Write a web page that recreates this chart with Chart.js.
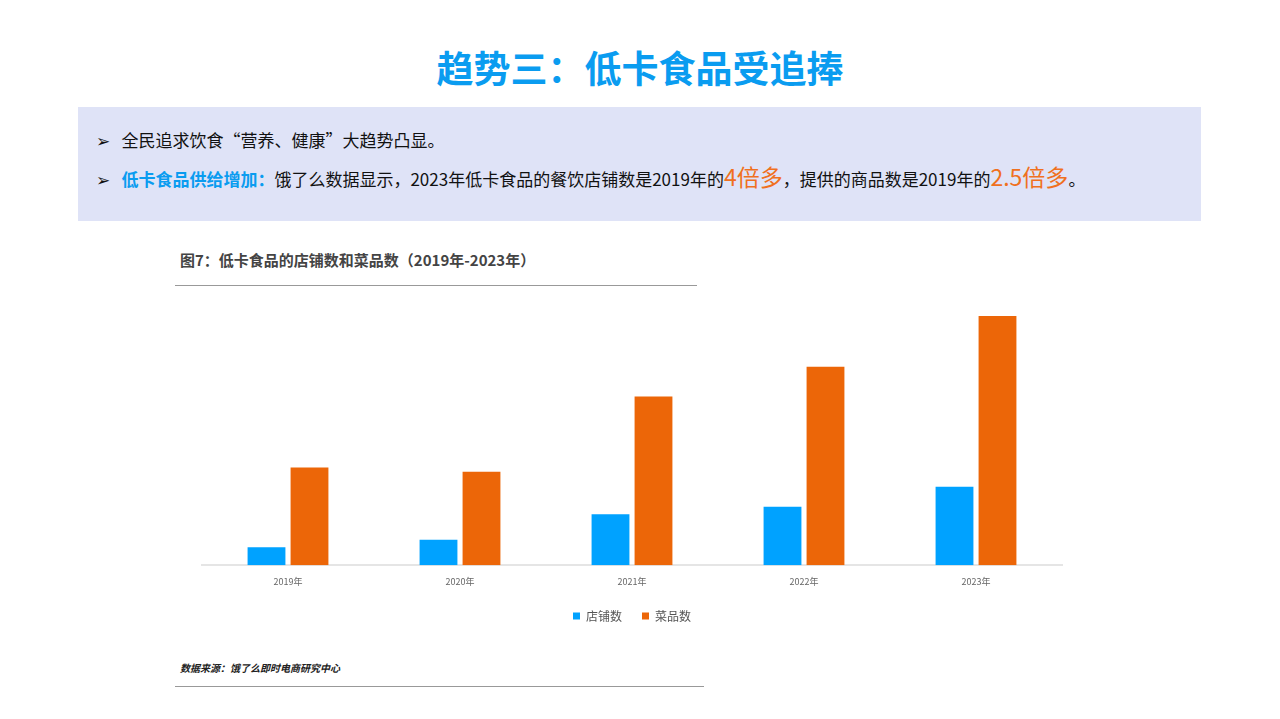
<!DOCTYPE html>
<html><head><meta charset="utf-8">
<script src="https://cdn.jsdelivr.net/npm/chart.js@4"></script>
<style>
body{margin:0;width:1280px;height:719px;background:#fff;font-family:"Noto Sans CJK SC","Noto Sans",sans-serif;position:relative;overflow:hidden}
.abs{position:absolute}
#title{left:0;width:1280px;top:40px;text-align:center;font-size:37px;font-weight:bold;color:#0a9cf0}
#box{left:78px;top:107px;width:1123px;height:114px;background:#dfe3f7}
.row{position:absolute;left:18px;font-size:17px;color:#111;white-space:nowrap}
.big{color:#f07020;font-size:23px}
#ctitle{left:180px;top:249px;font-size:15px;font-weight:bold;color:#444}
.hl{height:1px;background:#999}
#src{left:180px;top:660px;font-size:10px;font-weight:bold;font-style:italic;color:#222}
#wrap{left:192px;top:300px;width:880px;height:340px}
</style></head><body>
<div class="abs" id="title">趋势三：低卡食品受追捧</div>
<div class="abs" id="box">
 <div class="row" style="top:20px">➢&nbsp;&nbsp;&nbsp;全民追求饮食“营养、健康”大趋势凸显。</div>
 <div class="row" style="top:52px">➢&nbsp;&nbsp;&nbsp;<b style="color:#0a9cf0">低卡食品供给增加：</b>饿了么数据显示，2023年低卡食品的餐饮店铺数是2019年的<span class="big">4倍多</span>，提供的商品数是2019年的<span class="big">2.5倍多</span>。</div>
</div>
<div class="abs" id="ctitle">图7：低卡食品的店铺数和菜品数（2019年-2023年）</div>
<div class="abs hl" style="left:175px;top:285px;width:522px"></div>
<div class="abs" id="wrap"><canvas id="c"></canvas></div>
<div class="abs" id="src">数据来源：饿了么即时电商研究中心</div>
<div class="abs hl" style="left:175px;top:686px;width:529px"></div>
<script>
// Values (relative units, no axis shown)
const years = ['2019年', '2020年', '2021年', '2022年', '2023年'];
const stores = [17, 24, 48, 55, 74];
const dishes = [92, 88, 159, 187, 235];

new Chart(document.getElementById('c'), {
    type: 'bar',
    data: {
        labels: years,
        datasets: [
            { label: '店铺数', data: stores, backgroundColor: '#00a2ff' },
            { label: '菜品数', data: dishes, backgroundColor: '#ec6608' }
        ]
    },
    options: {
        responsive: true,
        maintainAspectRatio: false,
        animation: false,
        categoryPercentage: 0.5,
        barPercentage: 0.88,
        layout: { padding: { left: 10, right: 10, top: 0, bottom: 8 } },
        plugins: {
            legend: {
                position: 'bottom',
                labels: { boxWidth: 7, boxHeight: 7, padding: 20, color: '#555', font: { size: 12, family: 'Noto Sans CJK SC' } }
            },
            tooltip: { enabled: false }
        },
        scales: {
            x: {
                grid: { display: false },
                border: { color: '#e5e5e5', width: 2 },
                ticks: { color: '#666', font: { size: 9, family: 'Noto Sans CJK SC' } }
            },
            y: { display: false, min: 0, max: 250 }
        }
    }
});
</script>
</body></html>
